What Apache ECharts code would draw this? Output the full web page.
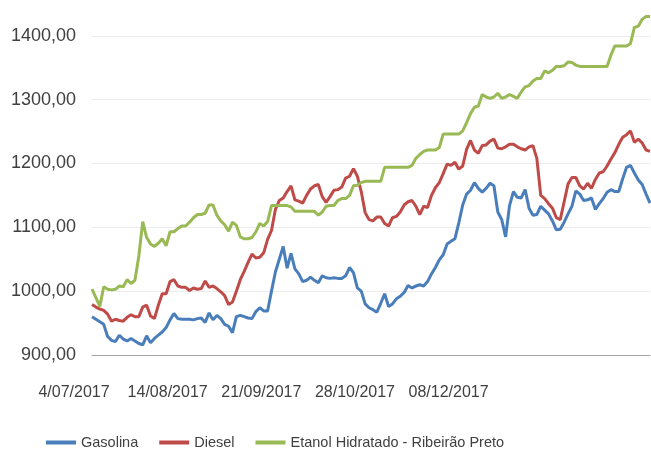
<!DOCTYPE html>
<html>
<head>
<meta charset="utf-8">
<title>Gasolina, Diesel, Etanol</title>
<script src="https://cdn.jsdelivr.net/npm/echarts@6/dist/echarts.min.js"></script>
<style>
  html, body { margin: 0; padding: 0; background: #fff; }
  #chart { width: 651px; height: 451px; }
</style>
</head>
<body>
<div id="chart"></div>
<script>
// rótulos do eixo X (um a cada 24 pontos)
var tickLabels = ['4/07/2017', '14/08/2017', '21/09/2017', '28/10/2017', '08/12/2017'];
var tickStep = 24;

var gasolina = [
	960, 956, 952, 948, 929, 923, 921, 931, 925, 922, 926, 922, 918, 916, 930, 919, 926, 931, 936, 943,
	955, 965, 957, 956, 956, 956, 955, 957, 958, 951, 966, 955, 962, 957, 948, 945, 935, 960, 962, 960,
	958, 957, 968, 974, 969, 969, 1000, 1030, 1050, 1070, 1036, 1059, 1035, 1027, 1015, 1017, 1022, 1017, 1013, 1024,
	1021, 1020, 1021, 1020, 1020, 1024, 1037, 1029, 1005, 1000, 980, 974, 971, 967, 981, 996, 976, 980, 988, 992,
	998, 1009, 1005, 1008, 1010, 1008, 1015, 1027, 1037, 1049, 1057, 1074, 1078, 1082, 1107, 1135, 1152, 1158, 1170, 1161,
	1155, 1161, 1169, 1165, 1124, 1112, 1085, 1134, 1156, 1147, 1146, 1159, 1130, 1119, 1120, 1133, 1127, 1121, 1110, 1096,
	1097, 1108, 1121, 1133, 1157, 1152, 1142, 1143, 1146, 1128, 1137, 1145, 1155, 1159, 1156, 1156, 1176, 1194, 1197, 1185,
	1174, 1167, 1152, 1138
];

var diesel = [
	979, 975, 972, 970, 964, 953, 956, 954, 953, 959, 963, 960, 960, 975, 978, 961, 957, 978, 996, 996,
	1015, 1018, 1008, 1006, 1006, 1001, 1005, 1003, 1004, 1016, 1006, 1008, 1004, 999, 993, 979, 983, 1000, 1018, 1031,
	1045, 1058, 1052, 1053, 1060, 1081, 1095, 1128, 1142, 1146, 1156, 1165, 1143, 1141, 1138, 1150, 1160, 1165, 1167, 1148,
	1139, 1148, 1158, 1159, 1163, 1177, 1180, 1192, 1180, 1156, 1123, 1112, 1110, 1116, 1116, 1106, 1102, 1115, 1117, 1124,
	1135, 1140, 1142, 1133, 1120, 1133, 1131, 1150, 1162, 1170, 1184, 1199, 1197, 1202, 1191, 1196, 1222, 1236, 1221, 1216,
	1228, 1229, 1235, 1238, 1224, 1223, 1226, 1230, 1230, 1226, 1223, 1221, 1226, 1228, 1208, 1150, 1145, 1137, 1130, 1115,
	1112, 1140, 1168, 1178, 1178, 1165, 1160, 1169, 1161, 1175, 1185, 1187, 1196, 1207, 1217, 1230, 1241, 1245, 1251, 1233,
	1238, 1232, 1221, 1219
];

var etanol = [
	1003, 990, 976, 1007, 1003, 1002, 1003, 1008, 1007, 1018, 1012, 1017, 1055, 1109, 1084, 1074, 1070, 1075, 1082, 1071,
	1093, 1093, 1098, 1102, 1102, 1108, 1115, 1120, 1120, 1122, 1135, 1135, 1119, 1110, 1104, 1094, 1108, 1103, 1085, 1082,
	1082, 1084, 1093, 1106, 1102, 1109, 1134, 1134, 1134, 1134, 1134, 1132, 1125, 1125, 1125, 1125, 1125, 1125, 1119, 1124,
	1133, 1134, 1134, 1142, 1145, 1145, 1150, 1165, 1166, 1170, 1172, 1172, 1172, 1172, 1172, 1194, 1194, 1194, 1194, 1194,
	1194, 1194, 1197, 1208, 1214, 1219, 1221, 1221, 1221, 1225, 1246, 1246, 1246, 1246, 1246, 1251, 1264, 1278, 1288, 1290,
	1308, 1304, 1302, 1304, 1310, 1302, 1304, 1308, 1305, 1302, 1312, 1320, 1322, 1329, 1333, 1333, 1345, 1342, 1346, 1352,
	1352, 1353, 1359, 1358, 1354, 1352, 1352, 1352, 1352, 1352, 1352, 1352, 1352, 1370, 1384, 1384, 1384, 1384, 1388, 1413,
	1415, 1426, 1430, 1430
];

var categories = gasolina.map(function(v, i) {
	return i;
});

var chart = echarts.init(document.getElementById('chart'));

var option = {
	animation : false,
	grid : {
		left : 92,
		right : 1,
		top : 0,
		bottom : 96
	},
	legend : {
		left : 46,
		top : 435,
		padding : 0,
		icon : 'rect',
		itemWidth : 30,
		itemHeight : 4,
		itemGap : 21,
		textStyle : {
			fontFamily : '"Liberation Sans", Arial, sans-serif',
			fontSize : 14.5,
			color : '#404040'
		},
		data : [ 'Gasolina', 'Diesel', 'Etanol Hidratado - Ribeirão Preto' ]
	},
	xAxis : {
		type : 'category',
		boundaryGap : false,
		data : categories,
		axisLine : {
			lineStyle : {
				color : '#a6a6a6',
				width : 1
			}
		},
		axisTick : {
			show : false
		},
		axisLabel : {
			interval : function(index) {
				return index % tickStep === 0 && index / tickStep < tickLabels.length;
			},
			formatter : function(value, index) {
				return tickLabels[index / tickStep] || '';
			},
			margin : 30,
			padding : [ 0, 36, 0, 0 ],
			fontFamily : '"Liberation Sans", Arial, sans-serif',
			fontSize : 16,
			color : '#404040'
		}
	},
	yAxis : {
		type : 'value',
		min : 900,
		max : 1456,
		interval : 100,
		axisLine : {
			show : false
		},
		axisTick : {
			show : false
		},
		splitLine : {
			showMaxLine : false,
			lineStyle : {
				color : '#ececec',
				width : 1
			}
		},
		axisLabel : {
			margin : 16,
			showMaxLabel : false,
			fontFamily : '"Liberation Sans", Arial, sans-serif',
			fontSize : 18,
			color : '#404040',
			formatter : function(v) {
				return v % 100 === 0 ? v.toFixed(2).replace('.', ',') : '';
			}
		}
	},
	series : [ {
		name : 'Gasolina',
		type : 'line',
		data : gasolina,
		showSymbol : false,
		color : '#4a7ebb',
		lineStyle : {
			width : 3
		}
	}, {
		name : 'Diesel',
		type : 'line',
		data : diesel,
		showSymbol : false,
		color : '#be4b48',
		lineStyle : {
			width : 3
		}
	}, {
		name : 'Etanol Hidratado - Ribeirão Preto',
		type : 'line',
		data : etanol,
		showSymbol : false,
		color : '#98b954',
		lineStyle : {
			width : 3
		}
	} ]
};

chart.setOption(option);
</script>
</body>
</html>
